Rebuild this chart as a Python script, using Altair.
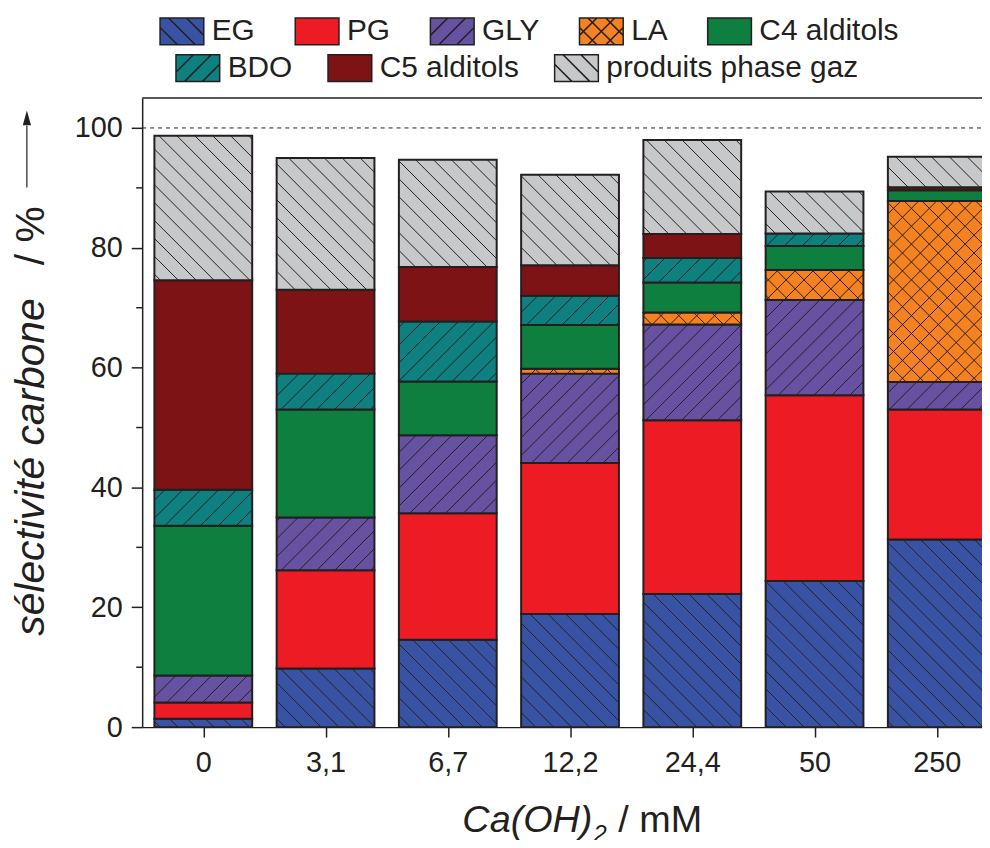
import math
import altair as alt
import pandas as pd

# ---------------- data ----------------
categories = ["0", "3,1", "6,7", "12,2", "24,4", "50", "250"]
series = ["EG", "PG", "GLY", "LA", "C4 alditols", "BDO", "C5 alditols", "produits phase gaz"]

EG  = [1.4, 9.8, 14.6, 18.9, 22.2, 24.4, 31.3]
PG  = [2.7, 16.4, 21.1, 25.2, 29.0, 31.0, 21.7]
GLY = [4.5, 8.8, 13.0, 14.9, 16.0, 15.9, 4.6]
LA  = [0.0, 0.0, 0.0, 0.8, 2.0, 5.0, 30.2]
C4  = [25.0, 18.0, 9.0, 7.3, 5.0, 4.0, 1.8]
BDO = [6.0, 6.0, 10.0, 4.9, 4.1, 2.1, 0.0]
C5  = [35.0, 14.0, 9.1, 5.1, 4.0, 0.0, 0.5]
GAZ = [24.1, 22.0, 17.9, 15.1, 15.7, 7.0, 5.1]

y_ticks = [0, 20, 40, 60, 80, 100]
y_minor = [10, 30, 50, 70, 90]
ref_line = 100

# ---------------- style ----------------
colors = ["#3953A4", "#ED1C24", "#6751A1", "#F58220", "#0E7F3E", "#0E8080", "#7D1315", "#C7C8CA"]
hatches = ["\\", "", "/", "x", "", "/", "", "\\"]
DARK = "#231F20"
FONT = "Liberation Sans"

W, H = 845, 633
STEP = 123.0
XMIN = -0.5
XMAX = XMIN + W / STEP
YMAX = 105
HALF = 0.4
kx = W / (XMAX - XMIN)
ky = H / YMAX
SPACING = 18.0

values = [EG, PG, GLY, LA, C4, BDO, C5, GAZ]

rows = []
for i, cat in enumerate(categories):
    cum = 0.0
    for s, vals in zip(series, values):
        v = vals[i]
        if v > 0:
            rows.append({"cat": cat, "idx": i, "series": s, "y0": cum, "y1": cum + v,
                         "x0": i - HALF, "x1": i + HALF})
        cum += v
df = pd.DataFrame(rows)

# hatch lines derived from the segments
hatch_of = dict(zip(series, hatches))
hl = []
for r in rows:
    h = hatch_of[r["series"]]
    if not h:
        continue
    X0 = (r["x0"] - XMIN) * kx
    X1 = (r["x1"] - XMIN) * kx
    Y0 = r["y0"] * ky
    Y1 = r["y1"] * ky
    dirs = ["\\", "/"] if h == "x" else [h]
    for d in dirs:
        if d == "\\":  # X + Y = c
            c = math.ceil((X0 + Y0) / SPACING) * SPACING
            while c < X1 + Y1:
                xs = max(X0, c - Y1)
                xe = min(X1, c - Y0)
                if xe - xs > 0.5:
                    hl.append({"hx0": xs / kx + XMIN, "hy0": (c - xs) / ky,
                               "hx1": xe / kx + XMIN, "hy1": (c - xe) / ky})
                c += SPACING
        else:  # X - Y = c
            c = math.ceil((X0 - Y1) / SPACING) * SPACING
            while c < X1 - Y0:
                xs = max(X0, Y0 + c)
                xe = min(X1, Y1 + c)
                if xe - xs > 0.5:
                    hl.append({"hx0": xs / kx + XMIN, "hy0": (xs - c) / ky,
                               "hx1": xe / kx + XMIN, "hy1": (xe - c) / ky})
                c += SPACING
hdf = pd.DataFrame(hl)


# legend swatch paths
def swatch(h):
    hw, hh = 1.0, 0.614
    p = [f"M{-hw},{-hh}H{hw}V{hh}H{-hw}Z"]
    S = SPACING / 22.0
    dirs = ["\\", "/"] if h == "x" else ([h] if h else [])
    for d in dirs:
        k = math.ceil((-hw - hh) / S)
        while k * S < hw + hh:
            dd = k * S
            xs = max(-hw, dd - hh)
            xe = min(hw, dd + hh)
            if xe - xs > 0.05:
                if d == "\\":
                    p.append(f"M{xs:.3f},{xs - dd:.3f}L{xe:.3f},{xe - dd:.3f}")
                else:
                    p.append(f"M{xs:.3f},{dd - xs:.3f}L{xe:.3f},{dd - xe:.3f}")
            k += 1
    return "".join(p)


paths = [swatch(h) for h in hatches]

xs_ = alt.Scale(domain=[XMIN, XMAX], nice=False, zero=False)
ys_ = alt.Scale(domain=[0, YMAX], nice=False, zero=False)
fill_scale = alt.Scale(domain=series, range=colors)

label_expr = "[" + ",".join(f"'{c}'" for c in categories) + "][datum.value]"

TICKFS = 29
x_axis = alt.Axis(values=list(range(len(categories))), labelExpr=label_expr, title=None,
                  grid=False, tickSize=10, tickWidth=1.5, tickColor=DARK,
                  domainColor=DARK, domainWidth=1.5, labelFontSize=TICKFS, labelFont=FONT,
                  labelColor=DARK, labelPadding=12, labelFlush=False, labelOverlap=False)
y_axis = alt.Axis(values=y_ticks, title=None, grid=False, tickSize=11, tickWidth=1.5,
                  tickColor=DARK, domainColor=DARK, domainWidth=1.5, labelFontSize=TICKFS,
                  labelFont=FONT, labelColor=DARK, labelPadding=9)

bars = alt.Chart(df).mark_rect(stroke=DARK, strokeWidth=2, clip=True).encode(
    x=alt.X("x0:Q", scale=xs_, axis=x_axis),
    x2="x1:Q",
    y=alt.Y("y0:Q", scale=ys_, axis=y_axis),
    y2="y1:Q",
    fill=alt.Fill("series:N", scale=fill_scale, legend=None),
)

hatch = alt.Chart(hdf).mark_rule(stroke=DARK, strokeWidth=1, clip=True).encode(
    x=alt.X("hx0:Q", scale=xs_),
    x2="hx1:Q",
    y=alt.Y("hy0:Q", scale=ys_),
    y2="hy1:Q",
)

minor = alt.Chart(pd.DataFrame({"m": y_minor})).mark_rule(stroke=DARK, strokeWidth=1.5).encode(
    y=alt.Y("m:Q", scale=ys_),
    x=alt.value(0), x2=alt.value(-6),
)

one = alt.Data(values=[{"k": 1}])

top_border = alt.Chart(one).mark_rule(stroke=DARK, strokeWidth=1.5).encode(
    y=alt.Y(datum=YMAX, scale=ys_), x=alt.value(0), x2=alt.value(W))

dashed = alt.Chart(one).mark_rule(stroke=DARK, strokeWidth=1, strokeDash=[4, 4]).encode(
    y=alt.Y(datum=ref_line, scale=ys_), x=alt.value(0), x2=alt.value(W))

XTS = 38
YTS = 41
xt1 = alt.Chart(one).mark_text(text="Ca(OH)", font=FONT, fontSize=XTS, fontStyle="italic",
                               align="right", baseline="alphabetic", color=DARK).encode(
    x=alt.value(453), y=alt.value(739))
xt2 = alt.Chart(one).mark_text(text="2", font=FONT, fontSize=24, fontStyle="italic",
                               align="left", baseline="alphabetic", color=DARK).encode(
    x=alt.value(454), y=alt.value(749))
xt3 = alt.Chart(one).mark_text(text="/ mM", font=FONT, fontSize=XTS,
                               align="left", baseline="alphabetic", color=DARK).encode(
    x=alt.value(479), y=alt.value(739))

yt1 = alt.Chart(one).mark_text(text="sélectivité carbone", font=FONT, fontSize=YTS,
                               fontStyle="italic", angle=270, align="left",
                               baseline="alphabetic", color=DARK).encode(
    x=alt.value(-99), y=alt.value(541))
yt2 = alt.Chart(one).mark_text(text="/ %", font=FONT, fontSize=YTS, angle=270, align="right",
                               baseline="alphabetic", color=DARK).encode(
    x=alt.value(-99), y=alt.value(109))

arrow_line = alt.Chart(one).mark_rule(stroke=DARK, strokeWidth=1.2).encode(
    x=alt.value(-116), y=alt.value(90), y2=alt.value(28))
arrow_head = alt.Chart(one).mark_point(filled=True, fill=DARK, opacity=1,
                                       shape="M0,-1L0.55,1L-0.55,1Z", size=225).encode(
    x=alt.value(-116), y=alt.value(20))

# legends: two rows, each its own legend
row1 = series[:5]
row2 = series[5:]


def legend_layer(items, lx, ly, pad):
    idx = [series.index(s) for s in items]
    leg = alt.Legend(title=None, orient="none", legendX=lx, legendY=ly, columns=len(items),
                     direction="horizontal", symbolSize=1936, symbolStrokeWidth=1.5,
                     symbolStrokeColor=DARK, labelFontSize=30, labelFont=FONT,
                     labelColor=DARK, labelOffset=7, columnPadding=pad, rowPadding=0,
                     padding=0, labelLimit=500, gridAlign="none")
    return alt.Chart(df).mark_point(filled=True, opacity=1, stroke=DARK,
                                    strokeWidth=1.5).encode(
        x=alt.X("x0:Q", scale=xs_),
        y=alt.Y("y0:Q", scale=ys_),
        color=alt.Color("series:N", scale=alt.Scale(domain=items,
                                                    range=[colors[i] for i in idx]),
                        legend=leg),
        shape=alt.Shape("series:N", scale=alt.Scale(domain=items,
                                                    range=[paths[i] for i in idx]),
                        legend=leg),
    ).transform_filter("false")


leg1 = legend_layer(row1, 17, -90, 37)
leg2 = legend_layer(row2, 33, -53, 32)

chart = alt.layer(
    bars, hatch, minor, top_border, dashed, xt1, xt2, xt3, yt1, yt2,
    arrow_line, arrow_head, leg1, leg2
).resolve_scale(
    color="independent", shape="independent"
).properties(
    width=W, height=H, autosize="none",
    padding={"left": 135, "top": 88, "right": 0, "bottom": 111},
).configure_view(stroke=None)

chart.save("out.html", embed_options={"renderer": "svg", "actions": False})
